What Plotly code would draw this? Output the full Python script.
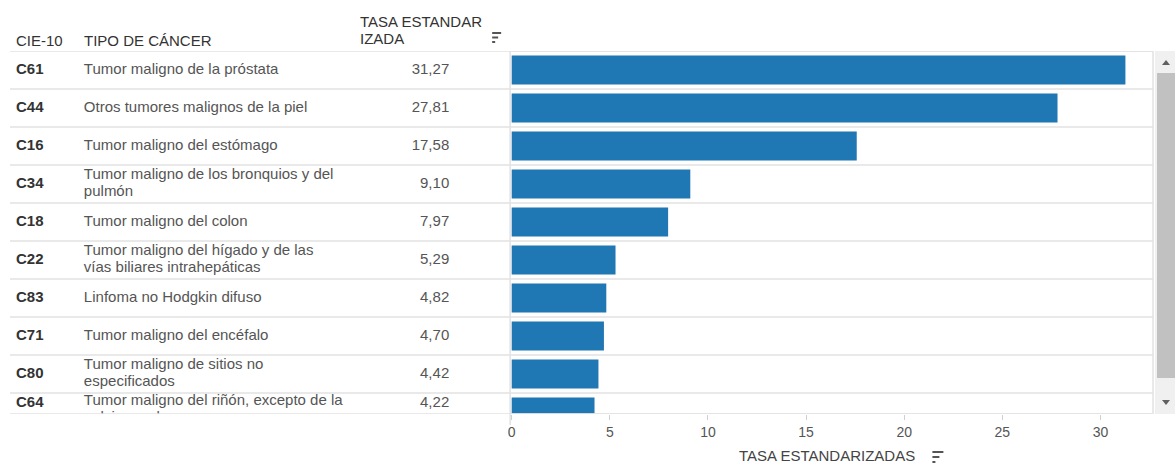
import plotly.graph_objects as go

# Top cancer types by standardized rate
codes = ["C61", "C44", "C16", "C34", "C18", "C22", "C83", "C71", "C80", "C64"]
tipos = [
    "Tumor maligno de la próstata",
    "Otros tumores malignos de la piel",
    "Tumor maligno del estómago",
    "Tumor maligno de los bronquios y del<br>pulmón",
    "Tumor maligno del colon",
    "Tumor maligno del hígado y de las<br>vías biliares intrahepáticas",
    "Linfoma no Hodgkin difuso",
    "Tumor maligno del encéfalo",
    "Tumor maligno de sitios no<br>especificados",
    "Tumor maligno del riñón, excepto de la<br>pelvis renal",
]
tasas = [31.27, 27.81, 17.58, 9.10, 7.97, 5.29, 4.82, 4.70, 4.42, 4.22]
x_ticks = [0, 5, 10, 15, 20, 25, 30]

W, H = 1175, 465
FONT = "Liberation Sans, Arial, sans-serif"
LINE = "#e2e2e2"
FS = 15


def px(x):
    return x / W


def py(y):
    return 1 - y / H


# pixel geometry of the view
top_px, bottom_px, row_px = 51, 414, 38
pane_l, pane_r = 509, 1153
y_top = -0.5
y_bottom = y_top + (bottom_px - top_px) / row_px
line_h = 17 / row_px  # text line height in row units

rows = list(range(len(codes)))
labels = [f"{v:.2f}".replace(".", ",") for v in tasas]


def place(n_lines, i):
    """Row-axis positions of each text line of a cell, inside its visible part."""
    vt = max(i - 0.5, y_top)
    vb = min(i + 0.5, y_bottom)
    block = n_lines * line_h
    if block <= vb - vt:
        start = (vt + vb) / 2 - block / 2
    else:
        start = vt
    return [start + (k + 0.5) * line_h for k in range(n_lines)]


code_y = [place(1, i)[0] for i in rows]
val_y = code_y
tipo_y, tipo_t = [], []
for i, t in zip(rows, tipos):
    parts = t.split("<br>")
    for yy, part in zip(place(len(parts), i), parts):
        tipo_y.append(yy)
        tipo_t.append(part)

fig = go.Figure()

fig.add_trace(go.Bar(
    x=tasas, y=rows, orientation="h", width=0.76,
    marker=dict(color="#1f77b4", line=dict(width=0)),
    hoverinfo="skip", showlegend=False,
))

# table columns share the same row axis
fig.add_trace(go.Scatter(
    x=[14] * len(codes), y=code_y, text=codes, mode="text",
    textposition="middle right", xaxis="x2", yaxis="y", cliponaxis=True,
    textfont=dict(family=FONT, size=FS, color="#333333", weight="bold"),
    hoverinfo="skip", showlegend=False,
))
fig.add_trace(go.Scatter(
    x=[82] * len(tipo_t), y=tipo_y, text=tipo_t, mode="text",
    textposition="middle right", xaxis="x2", yaxis="y", cliponaxis=True,
    textfont=dict(family=FONT, size=FS, color="#555555"),
    hoverinfo="skip", showlegend=False,
))
fig.add_trace(go.Scatter(
    x=[448] * len(codes), y=val_y, text=labels, mode="text",
    textposition="middle left", xaxis="x2", yaxis="y", cliponaxis=True,
    textfont=dict(family=FONT, size=FS, color="#555555"),
    hoverinfo="skip", showlegend=False,
))

shapes = []
# row separators
for i in rows:
    yb = i + 0.5
    if yb < y_bottom:
        shapes.append(dict(type="line", xref="paper", yref="y",
                           x0=px(8), x1=px(pane_r), y0=yb, y1=yb,
                           line=dict(color=LINE, width=1.5)))
# header rule and bottom rule
for yb in (y_top, y_bottom):
    shapes.append(dict(type="line", xref="paper", yref="y",
                       x0=px(8), x1=px(pane_r), y0=yb, y1=yb,
                       line=dict(color=LINE, width=1.5)))
# bar pane border
shapes.append(dict(type="rect", xref="paper", yref="y",
                   x0=px(pane_l), x1=px(pane_r), y0=y_top, y1=y_bottom,
                   line=dict(color=LINE, width=1.5)))
shapes.append(dict(type="line", xref="paper", yref="paper",
                   x0=px(pane_l), x1=px(pane_l), y0=py(bottom_px), y1=py(425),
                   line=dict(color=LINE, width=1.5)))

# scrollbar
shapes.append(dict(type="rect", xref="paper", yref="paper",
                   x0=px(1155), x1=px(1175), y0=py(414), y1=py(51),
                   fillcolor="#f0f0f0", line=dict(width=0), layer="above"))
shapes.append(dict(type="rect", xref="paper", yref="paper",
                   x0=px(1157), x1=px(1175), y0=py(378), y1=py(73),
                   fillcolor="#c1c1c1", line=dict(width=0), layer="above"))


def tri(cx, cy, up):
    d = -3 if up else 3
    pts = [(cx - 4, cy - d / 1.5), (cx + 4, cy - d / 1.5), (cx, cy + d)]
    path = "M " + " L ".join(f"{px(a):.5f},{py(b):.5f}" for a, b in pts) + " Z"
    return dict(type="path", xref="paper", yref="paper", path=path,
                fillcolor="#606060", line=dict(width=0), layer="above")


shapes.append(tri(1166, 63, True))
shapes.append(tri(1166, 402, False))


def sort_icon(x, y, lens, gap):
    out = []
    for k, ln in enumerate(lens):
        yy = y + k * gap
        out.append(dict(type="line", xref="paper", yref="paper",
                        x0=px(x), x1=px(x + ln), y0=py(yy), y1=py(yy),
                        line=dict(color="#555555", width=2)))
    return out


shapes += sort_icon(491, 33, [9, 6, 3], 4.5)
shapes += sort_icon(932, 452, [11, 7, 3], 5)

annotations = []


def head(text, x, y, anchor="left", color="#333333"):
    annotations.append(dict(text=text, xref="paper", yref="paper",
                            x=px(x), y=py(y), xanchor=anchor, yanchor="middle",
                            showarrow=False,
                            font=dict(family=FONT, size=FS, color=color)))


head("CIE-10", 12, 40)
head("TIPO DE CÁNCER", 80, 40)
head("TASA ESTANDAR", 357, 21)
head("IZADA", 357, 39)
head("TASA ESTANDARIZADAS", 826, 455, anchor="center", color="#444444")

fig.update_layout(
    width=W, height=H,
    margin=dict(l=0, r=0, t=0, b=0),
    paper_bgcolor="white", plot_bgcolor="white",
    shapes=shapes, annotations=annotations,
    xaxis=dict(domain=[px(pane_l), px(pane_r)], range=[-0.08, (pane_r - pane_l) / 19.66 - 0.08],
               tickvals=x_ticks, ticktext=[str(t) for t in x_ticks],
               ticks="outside", ticklen=5, tickcolor="#cfcfcf",
               tickfont=dict(family=FONT, size=14, color="#555555"),
               showgrid=False, zeroline=False, showline=False, anchor="y"),
    xaxis2=dict(domain=[0, px(pane_l)], range=[0, pane_l], visible=False,
                anchor="y"),
    yaxis=dict(domain=[py(bottom_px), py(top_px)], range=[y_bottom, y_top],
               visible=False, showgrid=False, zeroline=False),
)

fig.write_html("out.html")
